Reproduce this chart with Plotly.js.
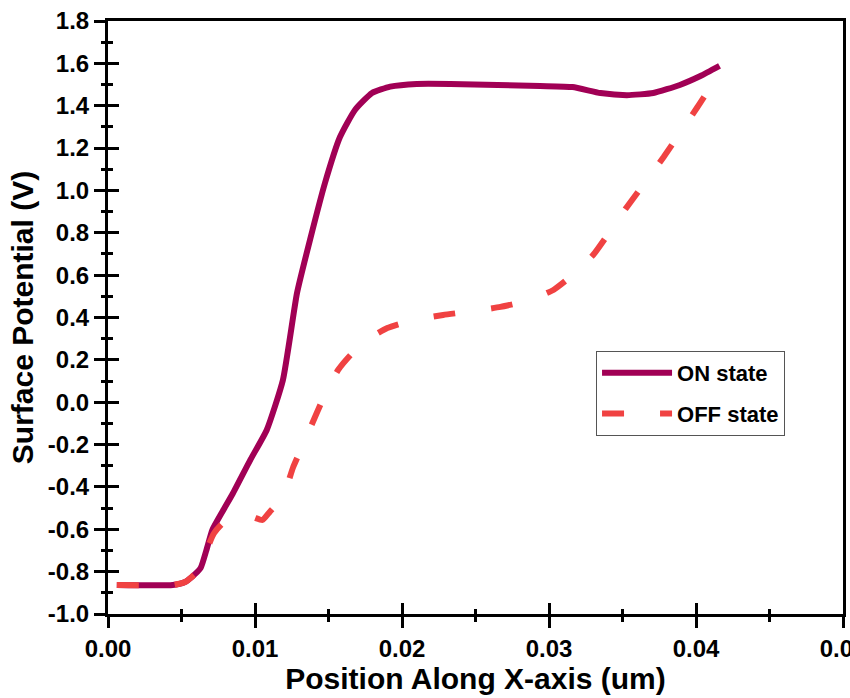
<!DOCTYPE html>
<html><head><meta charset="utf-8">
<script src="https://cdn.plot.ly/plotly-3.0.1.min.js"></script>
<style>html,body{margin:0;padding:0;background:#fff}</style>
</head><body><div id="chart" style="width:850px;height:698px"></div>
<script>
// ON state surface potential (V) vs position (um)
const onX = [0.0006,0.0044,0.0052,0.0057,0.0063,0.0067,0.0071,0.0078,0.0085,0.0097,0.0108,0.0119,0.01286,0.01374,0.01476,0.01578,0.0168,0.01796,0.0192,0.021,0.0233,0.0265,0.0294,0.0316,0.0335,0.0353,0.0371,0.0389,0.0403,0.0416];
const onY = [-0.863,-0.863,-0.850,-0.825,-0.783,-0.697,-0.603,-0.515,-0.43,-0.27,-0.131,0.105,0.516,0.766,1.035,1.252,1.38,1.46,1.49,1.503,1.503,1.498,1.493,1.488,1.46,1.45,1.46,1.498,1.54,1.588];
// OFF state
const offX = [0.0006,0.0044,0.0052,0.0057,0.0063,0.0067,0.0072,0.0078,0.0085,0.0097,0.0105,0.011,0.0119,0.0126,0.0135,0.0142,0.0149,0.01565,0.0165,0.0176,0.019,0.0208,0.0228,0.0248,0.0267,0.0287,0.0303,0.0316,0.033,0.0353,0.0378,0.0401,0.0416];
const offY = [-0.863,-0.863,-0.850,-0.825,-0.783,-0.70,-0.62,-0.572,-0.552,-0.54,-0.556,-0.518,-0.447,-0.306,-0.164,-0.051,0.058,0.152,0.223,0.294,0.35,0.388,0.412,0.43,0.45,0.483,0.53,0.6,0.695,0.922,1.158,1.394,1.555];

const yTickVals = [-1.0,-0.8,-0.6,-0.4,-0.2,0.0,0.2,0.4,0.6,0.8,1.0,1.2,1.4,1.6,1.8];
const yTickText = yTickVals.map(v => v.toFixed(1));
const xTickVals = [0,0.01,0.02,0.03,0.04,0.05];
const xTickText = xTickVals.map(v => v.toFixed(2));

const FONT = "Liberation Sans, Arial, sans-serif";
const tickFont = {family: FONT, size: 24, color: '#000', weight: 700};

const traces = [
  {x: onX, y: onY, name: 'ON state', type: 'scatter', mode: 'lines',
   xaxis: 'x', yaxis: 'y', legendgroup: 'a',
   line: {color: '#A10055', width: 6, shape: 'spline', smoothing: 0.5}},
  {x: offX, y: offY, name: 'OFF state', type: 'scatter', mode: 'lines',
   xaxis: 'x2', yaxis: 'y2', legendgroup: 'b',
   line: {color: '#F04242', width: 6, dash: '22px,36px', shape: 'spline', smoothing: 0.5}}
];

const baseX = {range: [0, 0.05], tickmode: 'array', tickvals: xTickVals, ticktext: xTickText,
  showgrid: false, zeroline: false, tickwidth: 3, tickcolor: '#000', ticklen: 11, fixedrange: true};
const baseY = {range: [-1.0, 1.8], tickmode: 'array', tickvals: yTickVals, ticktext: yTickText,
  showgrid: false, zeroline: false, tickwidth: 3, tickcolor: '#000', ticklen: 11, fixedrange: true};

const layout = {
  width: 850, height: 698,
  margin: {l: 108, r: 7, t: 21, b: 84},
  paper_bgcolor: '#fff', plot_bgcolor: '#fff',
  font: {family: FONT, color: '#000'},
  showlegend: true,
  xaxis: Object.assign({}, baseX, {
    ticks: 'outside', showline: true, linewidth: 3, linecolor: '#000', mirror: true,
    tickfont: tickFont, ticklabeloverflow: 'allow',
    minor: {dtick: 0.005, tick0: 0, ticks: 'outside', ticklen: 5, tickwidth: 3, tickcolor: '#000', showgrid: false},
    title: {text: 'Position Along X-axis (um)', font: {family: FONT, size: 30, weight: 700, color: '#000'}, standoff: 8}
  }),
  yaxis: Object.assign({}, baseY, {
    ticks: 'outside', showline: true, linewidth: 3, linecolor: '#000', mirror: true,
    tickfont: tickFont,
    minor: {dtick: 0.1, tick0: -1.0, ticks: 'outside', ticklen: 4, tickwidth: 3, tickcolor: '#000', showgrid: false},
    title: {text: 'Surface Potential (V)', font: {family: FONT, size: 30, weight: 700, color: '#000'}, standoff: 6}
  }),
  xaxis2: Object.assign({}, baseX, {
    overlaying: 'x', side: 'bottom', ticks: 'inside', showline: false, showticklabels: false,
    minor: {dtick: 0.005, tick0: 0, ticks: 'inside', ticklen: 5, tickwidth: 3, tickcolor: '#000', showgrid: false}
  }),
  yaxis2: Object.assign({}, baseY, {
    overlaying: 'y', side: 'left', ticks: 'inside', showline: false, showticklabels: false,
    minor: {dtick: 0.1, tick0: -1.0, ticks: 'inside', ticklen: 5, tickwidth: 3, tickcolor: '#000', showgrid: false}
  }),
  legend: {
    x: 0.664, y: 0.4435, xanchor: 'left', yanchor: 'top',
    bgcolor: '#fff', bordercolor: '#555', borderwidth: 1,
    font: {family: FONT, size: 22, weight: 700, color: '#000'},
    itemwidth: 70, traceorder: 'grouped', tracegroupgap: 9
  }
};

Plotly.newPlot('chart', traces, layout, {staticPlot: true, displayModeBar: false});
</script>
</body></html>
